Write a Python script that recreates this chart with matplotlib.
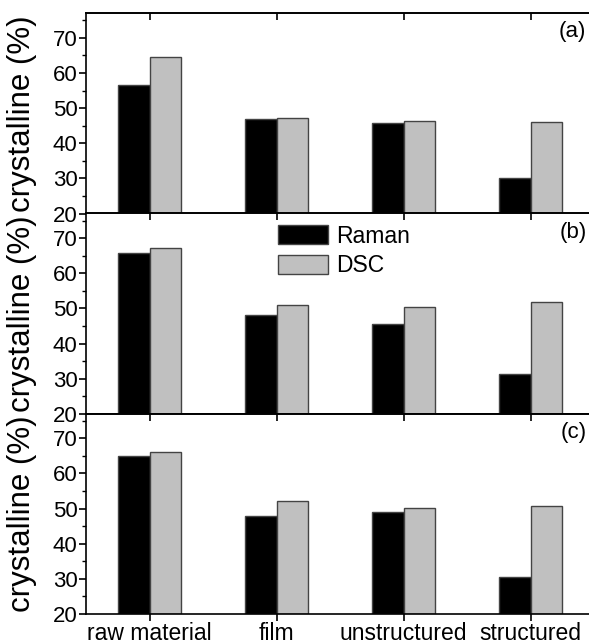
import numpy as np
import matplotlib.pyplot as plt

plt.rcParams['font.family'] = ['Liberation Sans', 'DejaVu Sans']

categorias = ['raw material', 'film', 'unstructured', 'structured']
raman_a = [56.6, 47.0, 45.8, 30.2]
dsc_a = [64.5, 47.2, 46.4, 46.0]
raman_b = [65.7, 48.2, 45.5, 31.3]
dsc_b = [67.2, 51.1, 50.5, 51.8]
raman_c = [65.1, 48.0, 48.9, 30.4]
dsc_c = [66.2, 52.2, 50.1, 50.8]
paineis = ['(a)', '(b)', '(c)']

fig = plt.figure(figsize=(5.89, 6.42), dpi=100)
W, H = 589, 642
esq, dir_ = 86, 594
topos = [13.3, 213.5, 413.7]
alt = 200.3

x = np.arange(1, 5)
larg = 0.25
dados = [(raman_a, dsc_a), (raman_b, dsc_b), (raman_c, dsc_c)]
eixos = []
for i, (ram, dsc) in enumerate(dados):
    ax = fig.add_axes([esq / W, 1 - (topos[i] + alt) / H, (dir_ - esq) / W, alt / H])
    ax.bar(x - larg / 2, np.array(ram) - 20, larg, bottom=20, color='black',
           edgecolor='#444444', linewidth=1.0, label='Raman', zorder=2)
    ax.bar(x + larg / 2, np.array(dsc) - 20, larg, bottom=20, color='#c0c0c0',
           edgecolor='#444444', linewidth=1.0, label='DSC', zorder=2)
    ax.set_xlim(0.5, 4.5)
    ax.set_ylim(20, 77)
    ax.set_yticks([20, 30, 40, 50, 60, 70])
    ax.set_yticks(np.arange(25, 80, 10), minor=True)
    ax.set_xticks(x)
    ax.tick_params(axis='y', which='major', direction='out', length=5, width=1.2, labelsize=16, pad=1)
    ax.tick_params(axis='y', which='minor', direction='out', length=3, width=1.0)
    ax.tick_params(axis='x', which='major', direction='out', length=5, width=1.2, labelsize=16.5, pad=0.5)
    top = ax.secondary_xaxis('top')
    top.set_xticks(x)
    top.tick_params(direction='in', length=5, width=1.2, labeltop=False)
    top.spines['top'].set_linewidth(1.2)
    for s in ax.spines.values():
        s.set_linewidth(1.2)
    if i < 2:
        ax.set_xticklabels([])
    else:
        ax.set_xticklabels(categorias)
    ax.set_ylabel('crystalline (%)', fontsize=22.5)
    ax.yaxis.set_label_coords(-0.097, 0.5)
    ax.text(0.985, 0.96, paineis[i], transform=ax.transAxes, ha='right', va='top', fontsize=16)
    eixos.append(ax)

eixos[1].legend(loc='upper left', bbox_to_anchor=(0.378, 0.945), frameon=False,
                fontsize=16.5, handlelength=2.2, handleheight=0.9, borderpad=0,
                borderaxespad=0, labelspacing=0.3, handletextpad=0.35)

fig.savefig('out.png', dpi=100)
